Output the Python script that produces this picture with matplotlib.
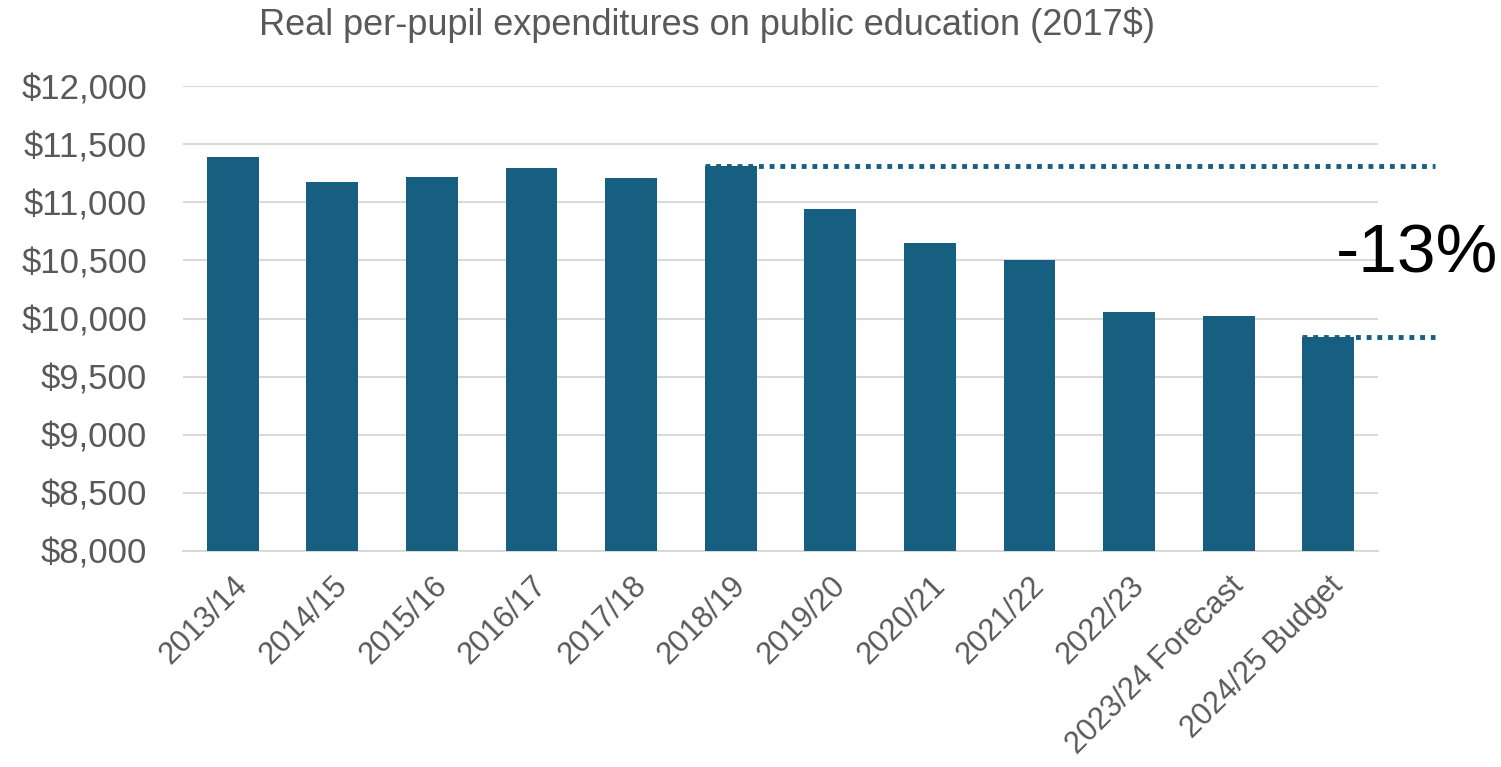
import numpy as np
import matplotlib
matplotlib.use("Agg")
import matplotlib.pyplot as plt

plt.rcParams['font.family'] = ['Liberation Sans', 'DejaVu Sans']

# data
years = ['2013/14', '2014/15', '2015/16', '2016/17', '2017/18', '2018/19',
         '2019/20', '2020/21', '2021/22', '2022/23', '2023/24 Forecast', '2024/25 Budget']
spending = [11385, 11170, 11220, 11295, 11205, 11315,
            10945, 10650, 10505, 10055, 10020, 9840]
yticks = [8000, 8500, 9000, 9500, 10000, 10500, 11000, 11500, 12000]
change_label = '-13%'

bar_color = '#175f80'
grey = '#595959'

fig = plt.figure(figsize=(15.01, 7.67), dpi=100)
ax = fig.add_axes([183 / 1501, 1 - 551 / 767, (1378 - 183) / 1501, (551 - 86) / 767])

x = np.arange(len(years))
ax.bar(x, spending, width=0.52, color=bar_color, zorder=3)

ax.set_ylim(8000, 12000)
ax.set_xlim(-0.5, len(years) - 0.5)
ax.set_yticks(yticks)
ax.set_yticklabels([f'${v:,}' for v in yticks], fontsize=25, color=grey)
ax.set_xticks(x)
ax.set_xticklabels(years, rotation=45, ha='right', rotation_mode='anchor',
                   fontsize=22, color=grey)
ax.tick_params(axis='both', length=0)
ax.tick_params(axis='y', pad=26)
ax.tick_params(axis='x', pad=14)
ax.grid(axis='y', color='#d9d9d9', linewidth=1.5, zorder=0)
for s in ['top', 'right', 'left']:
    ax.spines[s].set_visible(False)
ax.spines['bottom'].set_color('#d9d9d9')
ax.spines['bottom'].set_linewidth(1.5)

# reference lines: 2018/19 level and 2024/25 level
x_end = len(years) - 0.5 + 57 / 99.6
ax.plot([5 - 0.26, x_end], [spending[5], spending[5]], linestyle=(0, (1, 1.2)),
        color=bar_color, linewidth=3.5, clip_on=False, zorder=4)
ax.plot([11 - 0.26, x_end], [spending[11], spending[11]], linestyle=(0, (1, 1.2)),
        color=bar_color, linewidth=3.5, clip_on=False, zorder=4)
ax.text(len(years) - 0.5 + 120 / 99.6, (spending[5] + spending[11]) / 2 - 25, change_label,
        fontsize=50, color='black', ha='right', va='center', clip_on=False)

fig.text(707 / 1501, 1 - 25 / 767, 'Real per-pupil expenditures on public education (2017$)',
         fontsize=26, color=grey, ha='center', va='center')

fig.savefig('out.png', dpi=100)
